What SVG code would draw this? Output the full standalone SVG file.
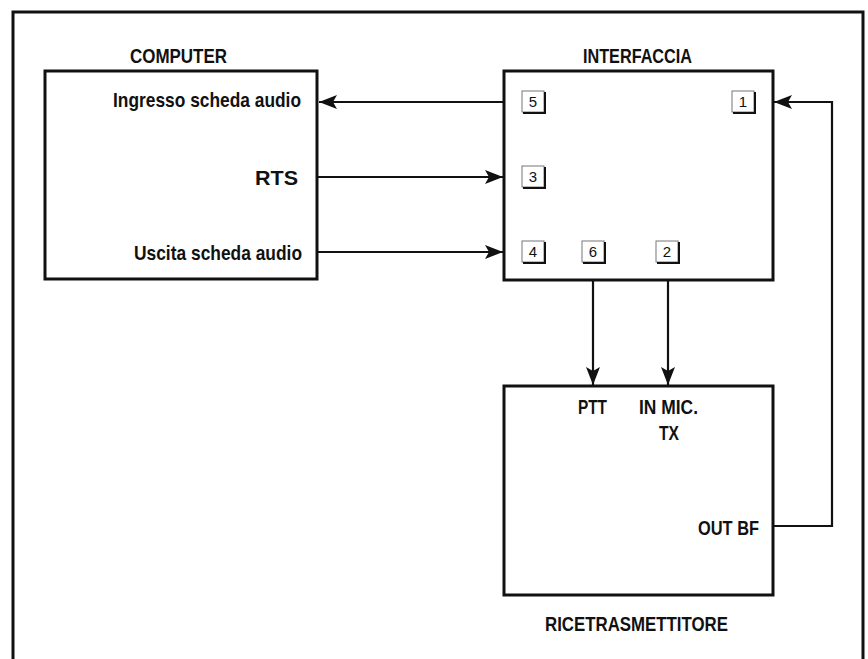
<svg xmlns="http://www.w3.org/2000/svg" width="868" height="659" viewBox="0 0 868 659">
<style>
.box{fill:#fff;stroke:#111;stroke-width:3}
.frame{fill:none;stroke:#111;stroke-width:3}
.t{font-family:"Liberation Sans",Arial,sans-serif;font-weight:bold;font-size:21px;fill:#111}
.pin rect{fill:#fff;stroke:#777;stroke-width:1}
.pin path{fill:none;stroke:#111;stroke-width:2}
.pin text{font-family:"Liberation Sans",Arial,sans-serif;font-size:15px;fill:#111;text-anchor:middle}
.c{fill:none;stroke:#111;stroke-width:2.2}
</style>
<defs>
<marker id="ah" viewBox="0 0 18 14" refX="18" refY="7" markerWidth="18" markerHeight="14" markerUnits="userSpaceOnUse" orient="auto">
<path d="M0,0 L18,7 L0,14 L4,7 Z" fill="#111"/>
</marker>
</defs>
<rect width="868" height="659" fill="#fff"/>
<path class="frame" d="M13,662 V12 H863 V662"/>

<g id="computer">
<rect class="box" x="45" y="71" width="272" height="208"/>
<text class="t" x="130" y="63" textLength="97" lengthAdjust="spacingAndGlyphs">COMPUTER</text>
<text class="t" x="113" y="107" textLength="188" lengthAdjust="spacingAndGlyphs">Ingresso scheda audio</text>
<text class="t" x="255" y="185" textLength="43" lengthAdjust="spacingAndGlyphs">RTS</text>
<text class="t" x="134" y="260" textLength="168" lengthAdjust="spacingAndGlyphs">Uscita scheda audio</text>
</g>

<g id="interfaccia">
<rect class="box" x="504" y="71" width="269" height="209"/>
<text class="t" x="583" y="63" textLength="109" lengthAdjust="spacingAndGlyphs">INTERFACCIA</text>
<g class="pin" id="pin5"><rect x="522" y="91" width="22" height="21"/><path d="M545,92 V113 H523"/><text x="533" y="107">5</text></g>
<g class="pin" id="pin1"><rect x="732" y="91" width="22" height="21"/><path d="M755,92 V113 H733"/><text x="743" y="107">1</text></g>
<g class="pin" id="pin3"><rect x="522" y="166" width="22" height="21"/><path d="M545,167 V188 H523"/><text x="533" y="182">3</text></g>
<g class="pin" id="pin4"><rect x="522" y="241" width="22" height="21"/><path d="M545,242 V263 H523"/><text x="533" y="257">4</text></g>
<g class="pin" id="pin6"><rect x="582" y="241" width="22" height="21"/><path d="M605,242 V263 H583"/><text x="593" y="257">6</text></g>
<g class="pin" id="pin2"><rect x="656" y="241" width="22" height="21"/><path d="M679,242 V263 H657"/><text x="667" y="257">2</text></g>
</g>

<g id="ricetrasmettitore">
<rect class="box" x="504" y="386" width="269" height="209"/>
<text class="t" x="578" y="414" textLength="29" lengthAdjust="spacingAndGlyphs">PTT</text>
<text class="t" x="639" y="414" textLength="59" lengthAdjust="spacingAndGlyphs">IN MIC.</text>
<text class="t" x="659" y="440" textLength="20" lengthAdjust="spacingAndGlyphs">TX</text>
<text class="t" x="698" y="535" textLength="61" lengthAdjust="spacingAndGlyphs">OUT BF</text>
<text class="t" x="545" y="631" textLength="183" lengthAdjust="spacingAndGlyphs">RICETRASMETTITORE</text>
</g>

<g id="connectors">
<path class="c" d="M504,102 H319" marker-end="url(#ah)"/>
<path class="c" d="M317,177 H503" marker-end="url(#ah)"/>
<path class="c" d="M317,252 H503" marker-end="url(#ah)"/>
<path class="c" d="M593,280 V385" marker-end="url(#ah)"/>
<path class="c" d="M668,280 V385" marker-end="url(#ah)"/>
<path class="c" d="M773,526 H832 V102 H774" marker-end="url(#ah)"/>
</g>
</svg>
